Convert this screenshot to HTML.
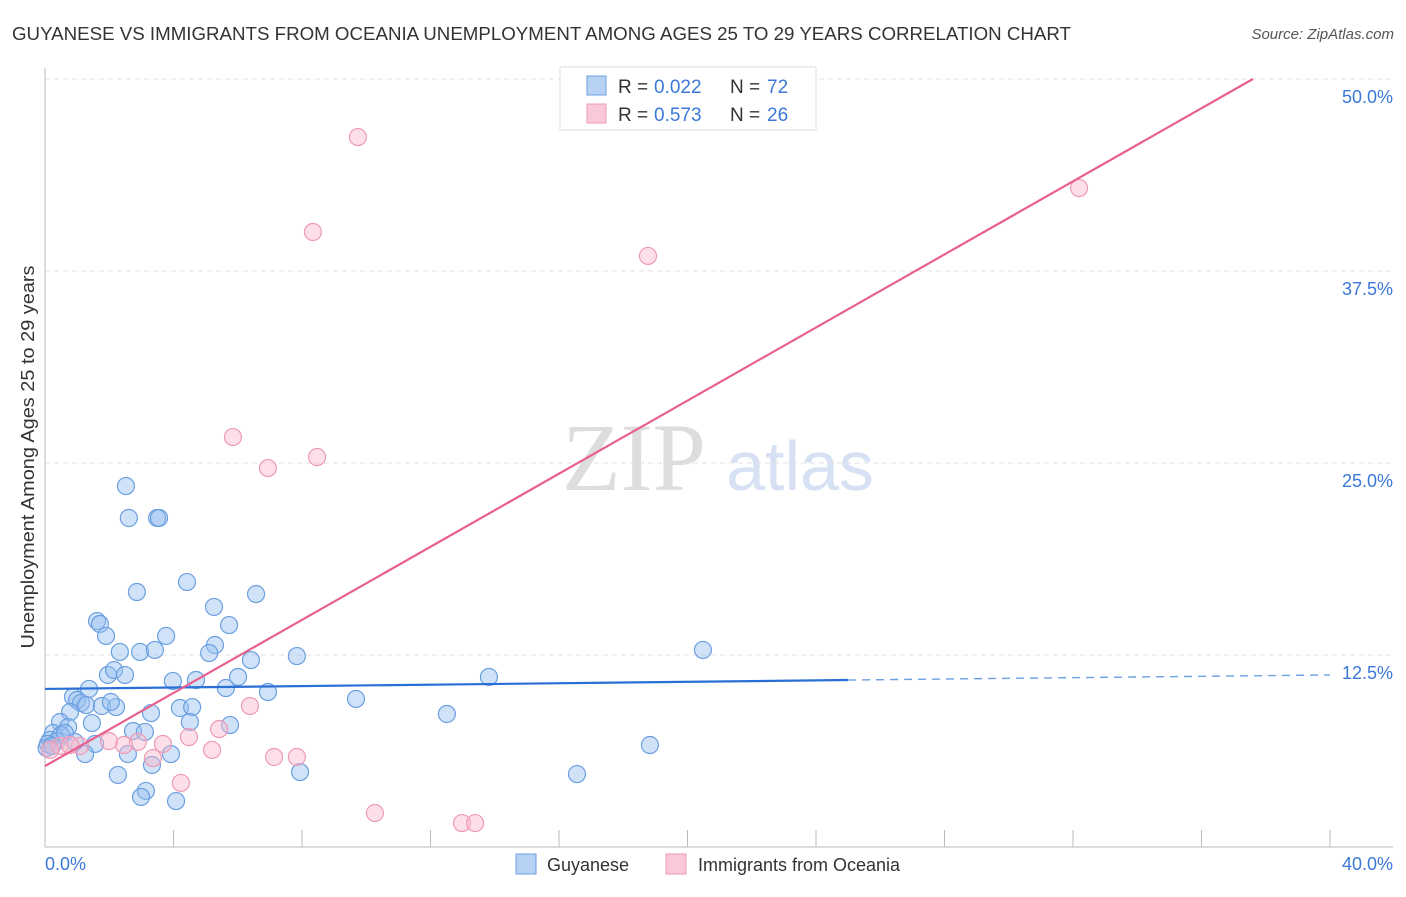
<!DOCTYPE html>
<html><head><meta charset="utf-8"><style>
body{margin:0;background:#fff;font-family:"Liberation Sans",sans-serif}
svg text{font-family:"Liberation Sans",sans-serif}
</style></head><body>
<svg id="c" width="1406" height="892">
<text x="12" y="40" font-size="18.5" fill="#333" textLength="1059" lengthAdjust="spacingAndGlyphs">GUYANESE VS IMMIGRANTS FROM OCEANIA UNEMPLOYMENT AMONG AGES 25 TO 29 YEARS CORRELATION CHART</text>
<text x="1394" y="39" font-size="15" fill="#555" font-style="italic" text-anchor="end">Source: ZipAtlas.com</text>
<text x="634" y="490" font-size="96" fill="#ddd" text-anchor="middle" style="font-family:'Liberation Serif',serif">ZIP</text>
<text x="800" y="490" font-size="70" fill="#d6e2f3" text-anchor="middle">atlas</text>
<text transform="translate(34,457) rotate(-90)" font-size="18" fill="#333" text-anchor="middle" textLength="383" lengthAdjust="spacingAndGlyphs">Unemployment Among Ages 25 to 29 years</text>
<g id="grid"></g><g id="pts"></g><g id="lines"></g>
<g>
<rect x="560" y="67" width="256" height="63" fill="#fff" stroke="#ddd"/>
<rect x="587" y="76" width="19" height="19" fill="#b8d2f4" stroke="#6a9fe0"/>
<rect x="587" y="104" width="19" height="19" fill="#f9c9d7" stroke="#ee9ab5"/>
<text x="618" y="93" font-size="19" fill="#333">R = </text><text x="654" y="93" font-size="19" fill="#3b78d8">0.022</text>
<text x="730" y="93" font-size="19" fill="#333">N = </text><text x="767" y="93" font-size="19" fill="#3b78d8">72</text>
<text x="618" y="121" font-size="19" fill="#333">R = </text><text x="654" y="121" font-size="19" fill="#3b78d8">0.573</text>
<text x="730" y="121" font-size="19" fill="#333">N = </text><text x="767" y="121" font-size="19" fill="#3b78d8">26</text>
</g>
<g>
<rect x="516" y="854" width="20" height="20" fill="#b8d2f4" stroke="#6a9fe0"/>
<text x="547" y="871" font-size="18" fill="#333">Guyanese</text>
<rect x="666" y="854" width="20" height="20" fill="#f9c9d7" stroke="#ee9ab5"/>
<text x="698" y="871" font-size="18" fill="#333">Immigrants from Oceania</text>
</g>
</svg>
<script>
const yTicks=[12.5,25,37.5,50];
const yTickLabels=["12.5%","25.0%","37.5%","50.0%"];
const xTicks=[0,4,8,12,16,20,24,28,32,36,40];
const xEndLabels=["0.0%","40.0%"];
const blueX=[2.52,2.61,3.49,3.55,4.42,2.86,5.26,6.57,1.62,1.71,1.90,3.77,5.73,5.29,2.33,2.96,3.42,5.11,6.41,7.84,20.48,1.96,2.15,2.49,3.98,4.70,6.01,5.63,6.94,13.82,1.37,0.87,1.00,1.12,1.28,1.77,2.21,4.20,4.58,3.30,9.68,12.51,0.78,1.46,0.47,0.72,4.51,5.76,2.74,3.11,0.25,0.50,0.16,0.37,0.09,1.56,18.83,1.25,2.58,3.92,3.33,2.27,7.94,16.56,3.14,2.99,4.08,2.05,0.05,0.22,0.62,0.93];
const blueY=[23.50,21.42,21.42,21.42,17.25,16.60,15.63,16.47,14.71,14.52,13.74,13.74,14.45,13.15,12.70,12.70,12.83,12.63,12.17,12.43,12.83,11.20,11.52,11.20,10.81,10.87,11.07,10.35,10.09,11.07,10.29,9.77,9.57,9.38,9.24,9.18,9.11,9.05,9.11,8.72,9.64,8.66,8.79,8.07,8.14,7.81,8.14,7.94,7.55,7.49,7.42,7.29,6.97,6.90,6.71,6.71,6.64,6.05,6.05,6.05,5.34,4.69,4.88,4.75,3.65,3.26,2.99,9.44,6.45,6.58,7.42,6.84];
const pinkX=[9.74,8.34,18.77,32.19,5.85,6.94,8.47,6.38,5.42,4.48,3.67,2.89,2.46,1.99,1.09,0.47,0.16,5.20,3.36,7.13,7.84,4.23,10.27,12.98,13.39,0.78];
const pinkY=[46.22,40.04,38.48,42.90,26.69,24.67,25.39,9.18,7.68,7.16,6.71,6.84,6.64,6.90,6.58,6.58,6.32,6.32,5.79,5.86,5.86,4.17,2.21,1.56,1.56,6.64];
const blueTrend=[10.29,10.87,11.2];
const pinkTrend=[5.27,50];
const pinkTrendX=[0,37.6];
const X=v=>45+v*32.125, Y=v=>847-v*15.36;
const NS="http://www.w3.org/2000/svg";
function mk(p,t,a){const e=document.createElementNS(NS,t);for(const k in a)e.setAttribute(k,a[k]);p.appendChild(e);return e;}
const grid=document.getElementById('grid');
yTicks.forEach((t,i)=>{
 const l=mk(grid,'line',{x1:45,x2:1393,y1:Y(t),y2:Y(t),stroke:'#e2e2e2','stroke-dasharray':'5,4'});
 
 
 const tx=mk(grid,'text',{x:1393,y:Y(t)+24,'font-size':18,fill:'#3b78d8','text-anchor':'end'});
 tx.textContent=yTickLabels[i];
 
 
});
const ax=mk(grid,'line',{x1:45,x2:45,y1:68,y2:847,stroke:'#bbb'});


const bx=mk(grid,'line',{x1:45,x2:1393,y1:847,y2:847,stroke:'#bbb'});


xTicks.forEach(t=>{
 const l=mk(grid,'line',{x1:X(t),x2:X(t),y1:830,y2:847,stroke:'#bbb'});
 
 
});
[[0,'start',45],[40,'end',1393]].forEach((d,i)=>{
 const tx=mk(grid,'text',{x:d[2],y:870,'font-size':18,fill:'#3b78d8','text-anchor':d[1]});
 tx.textContent=xEndLabels[i];
 
 
});
const pts=document.getElementById('pts');
blueX.forEach((v,i)=>{
 const c=mk(pts,'circle',{cx:X(v),cy:Y(blueY[i]),r:8.5,fill:'rgba(150,190,240,0.45)',stroke:'#6a9fe0','stroke-width':1.2});
 
 
});
pinkX.forEach((v,i)=>{
 const c=mk(pts,'circle',{cx:X(v),cy:Y(pinkY[i]),r:8.5,fill:'rgba(248,185,205,0.45)',stroke:'#ee9ab5','stroke-width':1.2});
 
 
});
const lines=document.getElementById('lines');
const b1=mk(lines,'line',{x1:X(0),y1:Y(blueTrend[0]),x2:X(25),y2:Y(blueTrend[1]),stroke:'#2a6fd6','stroke-width':2.2});


const b2=mk(lines,'line',{x1:X(25),y1:Y(blueTrend[1]),x2:X(40),y2:Y(blueTrend[2]),stroke:'#6a9fe0','stroke-width':1.4,'stroke-dasharray':'8,6'});


const p1=mk(lines,'line',{x1:X(pinkTrendX[0]),y1:Y(pinkTrend[0]),x2:X(pinkTrendX[1]),y2:Y(pinkTrend[1]),stroke:'#e8608e','stroke-width':2.2});


</script>
</body></html>
